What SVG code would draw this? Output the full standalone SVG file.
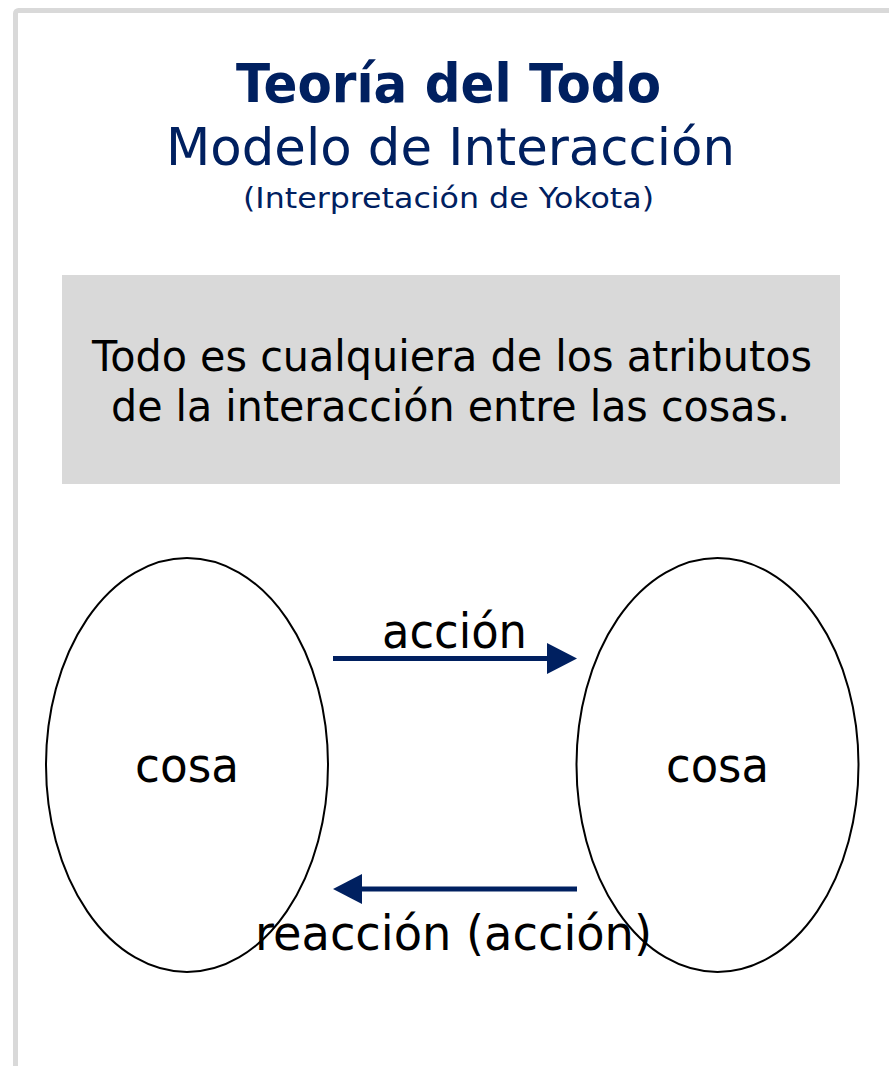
<svg xmlns="http://www.w3.org/2000/svg" width="889" height="1066" viewBox="0 0 889 1066">
<style>
.navy{fill:#002060;font-family:"DejaVu Sans","Liberation Sans",sans-serif;text-anchor:middle}
.blk{fill:#000;font-family:"DejaVu Sans","Liberation Sans",sans-serif;text-anchor:middle}
.node{fill:#fff;stroke:#000;stroke-width:2}
.conn{stroke:#002060;stroke-width:5;fill:none}
.head{fill:#002060}
</style>
<rect x="0" y="0" width="889" height="1066" fill="#fff"/>
<rect x="15.5" y="10.5" width="900" height="1100" rx="3" fill="#fff" stroke="#d9d9d9" stroke-width="5"/>
<g id="title">
<text class="navy" x="448.5" y="102" font-size="54" font-weight="bold" textLength="425" lengthAdjust="spacingAndGlyphs">Teoría del Todo</text>
<text class="navy" x="450.5" y="165" font-size="52" textLength="569" lengthAdjust="spacingAndGlyphs">Modelo de Interacción</text>
<text class="navy" x="448.5" y="208" font-size="29" textLength="411" lengthAdjust="spacingAndGlyphs">(Interpretación de Yokota)</text>
</g>
<g id="statement">
<rect x="62" y="275" width="778" height="209" fill="#d9d9d9"/>
<text class="blk" x="452" y="371" font-size="43" textLength="720" lengthAdjust="spacingAndGlyphs">Todo es cualquiera de los atributos</text>
<text class="blk" x="450.5" y="421" font-size="43" textLength="679" lengthAdjust="spacingAndGlyphs">de la interacción entre las cosas.</text>
</g>
<g id="cosa-left">
<ellipse class="node" cx="187" cy="765" rx="141" ry="207"/>
<text class="blk" x="187" y="782" font-size="48" textLength="104" lengthAdjust="spacingAndGlyphs">cosa</text>
</g>
<g id="cosa-right">
<ellipse class="node" cx="717.5" cy="765" rx="141" ry="207"/>
<text class="blk" x="717.5" y="782" font-size="48" textLength="103" lengthAdjust="spacingAndGlyphs">cosa</text>
</g>
<g id="connectors">
<line class="conn" x1="333" y1="658.5" x2="550" y2="658.5"/>
<polygon class="head" points="547,643 577,658.5 547,674"/>
<text class="blk" x="454.5" y="648" font-size="48" textLength="145" lengthAdjust="spacingAndGlyphs">acción</text>
<line class="conn" x1="577" y1="889" x2="360" y2="889"/>
<polygon class="head" points="362,874 333,889 362,904"/>
<text class="blk" x="453.5" y="950" font-size="48" textLength="397" lengthAdjust="spacingAndGlyphs">reacción (acción)</text>
</g>
</svg>
